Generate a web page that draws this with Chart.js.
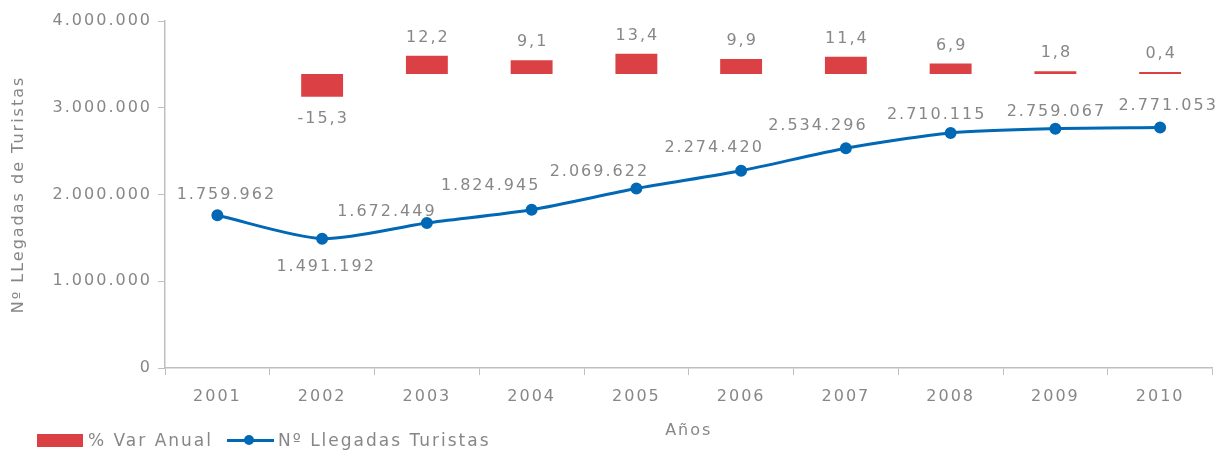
<!DOCTYPE html>
<html>
<head>
<meta charset="utf-8">
<script src="https://cdn.jsdelivr.net/npm/chart.js@4"></script>
<style>
  html, body { margin: 0; padding: 0; background: #fff; }
  #wrap { position: relative; width: 1220px; height: 451px; }
  #legend { position: absolute; left: 37px; top: 430px; font: 17px/20px "DejaVu Sans"; letter-spacing: 2px; color: #878787; display: flex; align-items: center; }
  .box { display: inline-block; width: 46px; height: 13px; background: #db4045; margin-right: 5px; }
  .ln { display: inline-block; position: relative; width: 47px; height: 3px; background: #0068b5; margin: 0 4px 0 14px; }
  .ln::after { content: ''; position: absolute; left: 17px; top: -3.5px; width: 10px; height: 10px; border-radius: 50%; background: #0068b5; }
</style>
</head>
<body>
<div id="wrap">
  <canvas id="chart" width="1220" height="451"></canvas>
  <div id="legend"><span class="box"></span>% Var Anual<span class="ln"></span>Nº Llegadas Turistas</div>
</div>
<script>
// Datos
const years = ['2001','2002','2003','2004','2005','2006','2007','2008','2009','2010'];
const arrivals = [1759962, 1491192, 1672449, 1824945, 2069622, 2274420, 2534296, 2710115, 2759067, 2771053];
const varAnual = [null, -15.3, 12.2, 9.1, 13.4, 9.9, 11.4, 6.9, 1.8, 0.4];
const yTicks = [0, 1000000, 2000000, 3000000, 4000000];

const grey = '#878787';
const axisGrey = '#bfbfbf';
const font = { family: 'DejaVu Sans', size: 16 };

// label nudges as placed in the original (px)
const lineLabelDx = [8, 3, -41, -42, -38, -28, -29, -15, 0, 7];
const lineLabelDy = [-20, 28, -11, -24, -17, -23, -22, -18, -17, -22];

function fmtThousands(v) {
    return String(Math.round(v)).replace(/\B(?=(\d{3})+(?!\d))/g, '.');
}

// letter spacing for all canvas text
const spacing = {
    id: 'spacing',
    beforeDraw(chart) { chart.ctx.letterSpacing = '2px'; }
};

// value labels on bars and points
const valueLabels = {
    id: 'valueLabels',
    afterDatasetsDraw(chart) {
        const ctx = chart.ctx;
        ctx.save();
        ctx.letterSpacing = '2px';
        ctx.font = '16px "DejaVu Sans"';
        ctx.fillStyle = grey;
        ctx.textAlign = 'center';
        ctx.textBaseline = 'middle';
        chart.getDatasetMeta(0).data.forEach((el, i) => {
            const v = varAnual[i];
            if (v == null) return;
            const txt = v.toFixed(1).replace('.', ',');
            if (v >= 0) ctx.fillText(txt, el.x + 1, Math.min(el.y, el.base) - 18);
            else ctx.fillText(txt, el.x + 1, Math.max(el.y, el.base) + 22);
        });
        chart.getDatasetMeta(1).data.forEach((el, i) => {
            ctx.fillText(fmtThousands(arrivals[i]), el.x + 1 + lineLabelDx[i], el.y + lineLabelDy[i]);
        });
        ctx.restore();
    }
};

new Chart(document.getElementById('chart'), {
    data: {
        labels: years,
        datasets: [{
            type: 'bar',
            label: '% Var Anual',
            data: varAnual,
            yAxisID: 'y2',
            backgroundColor: '#db4045',
            categoryPercentage: 0.8,
            barPercentage: 0.5,
            minBarLength: 2,
            order: 2
        }, {
            type: 'line',
            label: 'Nº Llegadas Turistas',
            data: arrivals,
            yAxisID: 'y',
            borderColor: '#0068b5',
            backgroundColor: '#0068b5',
            borderWidth: 3,
            pointRadius: 4.5,
            pointHoverRadius: 4.5,
            tension: 0.25,
            order: 1
        }]
    },
    options: {
        responsive: false,
        animation: false,
        layout: { padding: { top: 21, right: 7, left: 0, bottom: 0 } },
        plugins: { legend: { display: false }, tooltip: { enabled: false } },
        scales: {
            x: {
                offset: true,
                grid: { display: true, offset: true, drawOnChartArea: false, tickLength: 7, color: axisGrey },
                border: { color: axisGrey, width: 1.5 },
                ticks: { color: grey, font: font, padding: 12 },
                title: { display: true, text: 'Años', color: grey, font: font, padding: { top: 8, bottom: 11 } },
                afterFit(s) { s.height = 83; }
            },
            y: {
                min: 0, max: 4000000,
                afterBuildTicks(s) { s.ticks = yTicks.map(v => ({ value: v })); },
                grid: { drawOnChartArea: false, tickLength: 7, color: axisGrey },
                border: { color: axisGrey, width: 1.5 },
                ticks: { color: grey, font: font, padding: 6, callback: v => fmtThousands(v) },
                title: { display: true, text: 'Nº LLegadas de Turistas', color: grey, font: font, padding: { top: 9, bottom: 4 } },
                afterFit(s) { s.width = 165; }
            },
            y2: {
                display: false,
                min: -196.2, max: 35.3
            }
        }
    },
    plugins: [spacing, valueLabels]
});
</script>
</body>
</html>
